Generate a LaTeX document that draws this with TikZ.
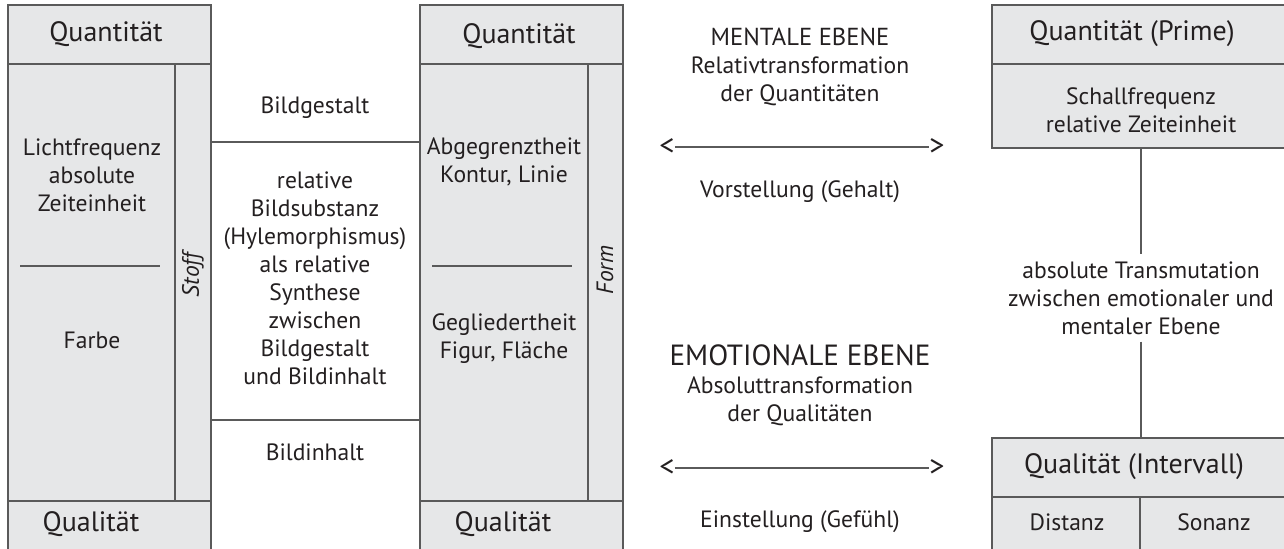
\documentclass[tikz,border=0pt]{standalone}
\usepackage{fontspec}
\setmainfont{PT Sans}
\definecolor{boxgray}{HTML}{E6E7E8}
\definecolor{rulegray}{HTML}{5A5A5A}
\definecolor{ink}{HTML}{231F20}
\begin{document}
\begin{tikzpicture}[x=.5pt,y=-.5pt, every node/.style={text=ink,align=center,font=\fontsize{11.8}{14}\selectfont},
  hd/.style={font=\fontsize{14}{14}\selectfont}, side/.style={rotate=90,font=\fontsize{11.8}{14}\selectfont\itshape},
  tip/.style={inner sep=0,font=\fontsize{15}{14}\selectfont},
  rl/.style={draw=rulegray,line width=.7pt}, grbox/.style={rl,fill=boxgray,minimum width=149pt}]
\clip (0,0) rectangle (1284,549);
% two tall blocks with side strip
\foreach \x/\s in {8/175, 420/588}
 {\filldraw[rl,fill=boxgray] (\x,5) rectangle (\x+203,560);
  \draw[rl] (\x,64)--++(203,0) (\x,501)--++(203,0) (\s,64)--(\s,501) (\x+12,266)--++(140,0);}
\draw[rl] (211,142)--(420,142) (211,420)--(420,420);
\node[hd] (quan1) at (106,34) {Quantität};
\node (licht) at (92,175) {Lichtfrequenz\\absolute\\Zeiteinheit};
\node (farbe) at (92,340) {Farbe};
\node[hd] (qual1) at (91,524) {Qualität};
\node[side] (stoff) at (193,275) {Stoff};
\node (gestalt) at (315,108) {Bildgestalt};
\node (substanz) at (315,278) {relative\\Bildsubstanz\\(Hylemorphismus)\\als relative\\Synthese\\zwischen\\Bildgestalt\\und Bildinhalt};
\node (inhalt) at (315,452) {Bildinhalt};
\node[hd] (quan2) at (519,36) {Quantität};
\node (grenz) at (504,162) {Abgegrenztheit\\Kontur, Linie};
\node (glied) at (504,339) {Gegliedertheit\\Figur, Fläche};
\node[hd] (qual2) at (503,524) {Qualität};
\node[side] (form) at (605,270) {Form};
% middle column
\node (mental) at (800,67) {{\fontsize{12.3}{14}\selectfont MENTALE EBENE}\\Relativtransformation\\der Quantitäten};
\node[tip] (ml) at (667,147) {<}; \node[tip] (mr) at (937,147) {>};
\draw[rl] (ml)--(mr);
\node (vorst) at (800,192) {Vorstellung (Gehalt)};
\node (emot) at (800,385) {{\fontsize{14.6}{14}\selectfont EMOTIONALE EBENE}\\Absoluttransformation\\der Qualitäten};
\node[tip] (el) at (667,468) {<}; \node[tip] (er) at (937,468) {>};
\draw[rl] (el)--(er);
\node (einst) at (800,522) {Einstellung (Gefühl)};
% right column
\node[grbox,minimum height=71.5pt] (prime) at (1141,76.5) {};
\node[grbox,minimum height=61pt] (interval) at (1141,499) {};
\draw[rl] (992,64)--(1290,64) (992,497)--(1290,497) (1140,497)--(1140,560);
\node[hd] (primehd) at (1132,34) {Quantität (Prime)};
\node (schall) at (1141,110) {Schallfrequenz\\relative Zeiteinheit};
\node (trans) at (1141,298) {absolute Transmutation\\zwischen emotionaler und\\mentaler Ebene};
\draw[rl] (prime)--(trans)--(interval);
\node[hd] (intervhd) at (1134,467) {Qualität (Intervall)};
\node (distanz) at (1067,522) {Distanz};
\node (sonanz) at (1214,522) {Sonanz};
\end{tikzpicture}
\end{document}
